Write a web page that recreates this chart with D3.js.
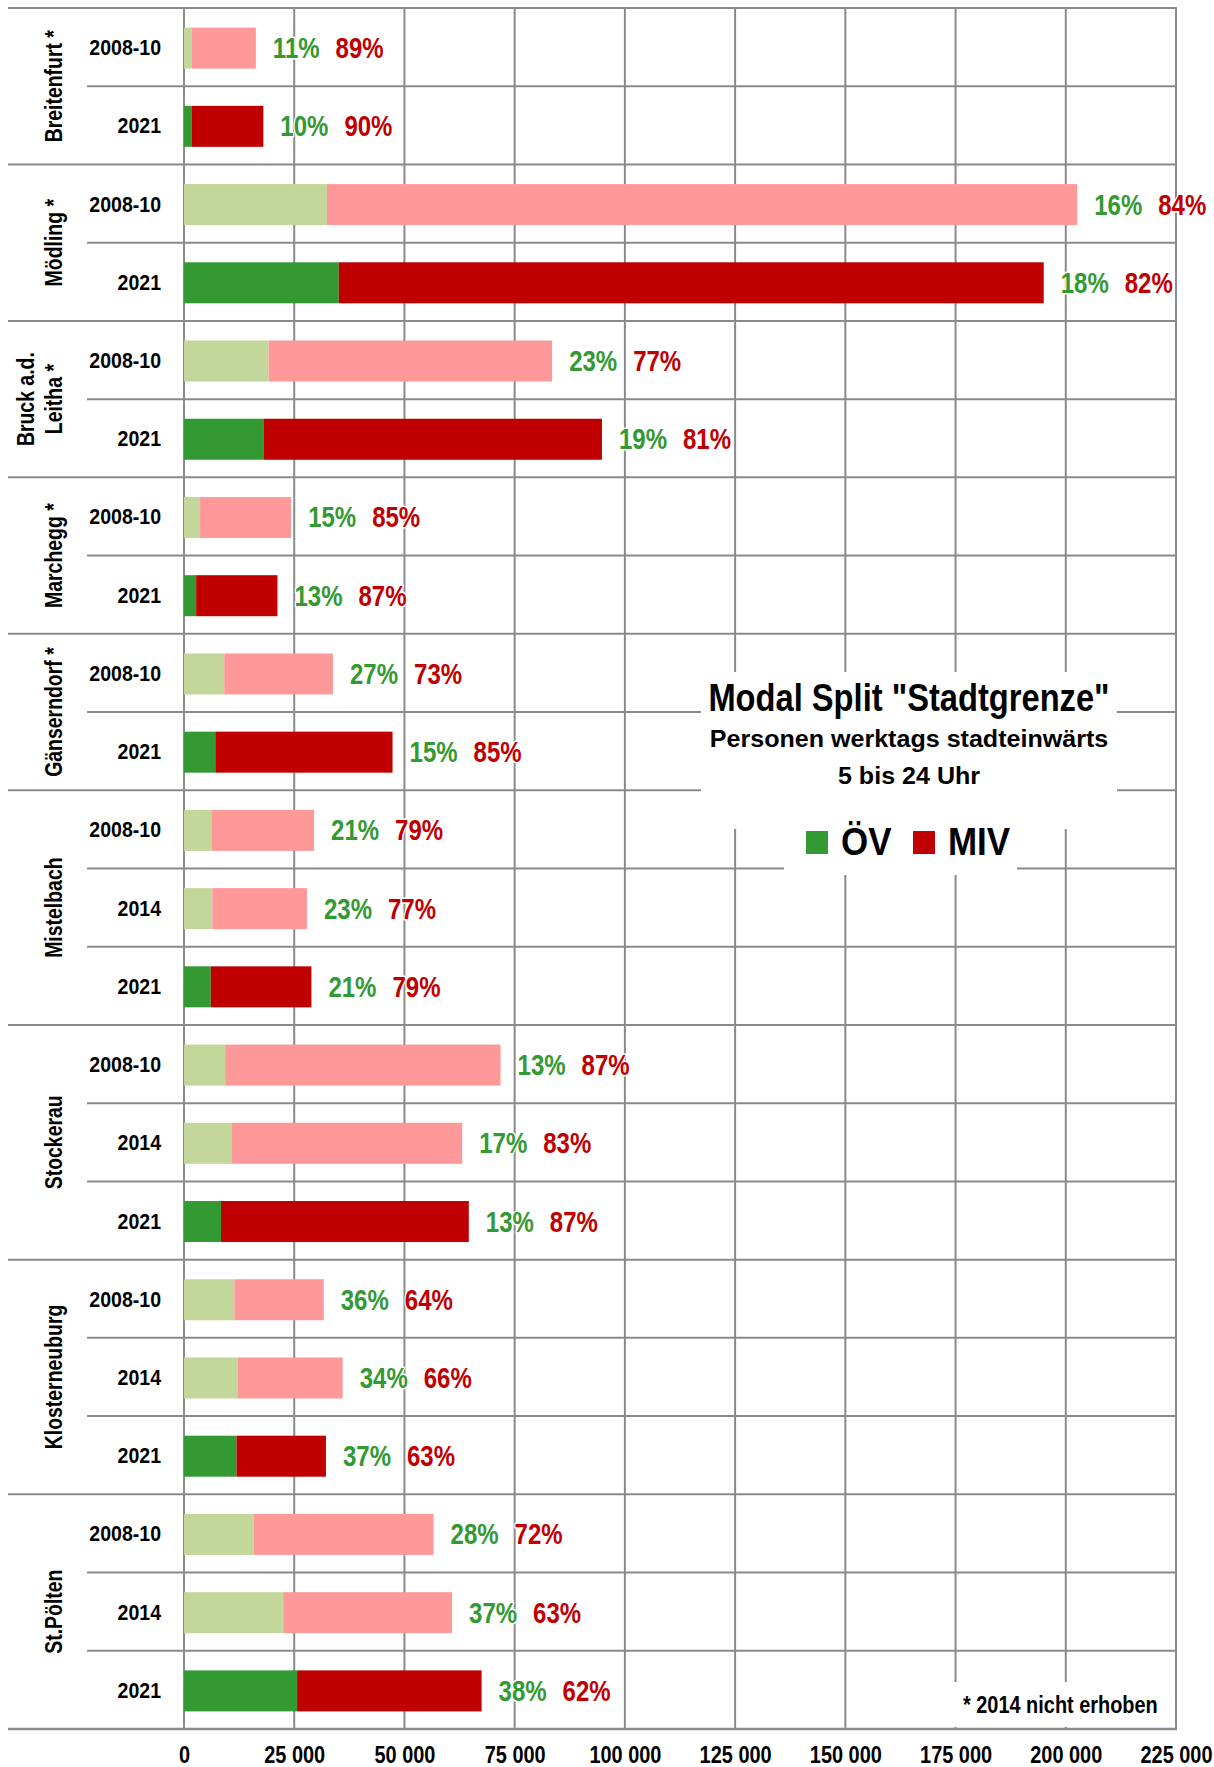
<!DOCTYPE html>
<html>
<head>
<meta charset="utf-8">
<script src="https://cdn.jsdelivr.net/npm/d3@7"></script>
<style>
  body { margin: 0; background: #fff; }
  svg { display: block; }
</style>
</head>
<body>
<svg id="chart" width="1214" height="1767"></svg>
<script>
// ---- data -------------------------------------------------------------
const groupLines = [
  ["Breitenfurt *"], ["Mödling *"], ["Bruck a.d.", "Leitha *"], ["Marchegg *"],
  ["Gänserndorf *"], ["Mistelbach"], ["Stockerau"], ["Klosterneuburg"], ["St.Pölten"]
];
const groupSizes = [2, 2, 2, 2, 2, 3, 3, 3, 3];
const periods = [
  "2008-10", "2021",
  "2008-10", "2021",
  "2008-10", "2021",
  "2008-10", "2021",
  "2008-10", "2021",
  "2008-10", "2014", "2021",
  "2008-10", "2014", "2021",
  "2008-10", "2014", "2021",
  "2008-10", "2014", "2021"
];
// persons per weekday, inbound, 5-24 h (ÖV + MIV)
const totals = [
  16300, 18000,
  202600, 195000,
  83500, 94800,
  24300, 21200,
  33800, 47300,
  29500, 27900, 28900,
  71800, 63100, 64600,
  31700, 36000, 32200,
  56600, 60800, 67500
];
// share of public transport (ÖV) in percent; MIV = 100 - ÖV
const oevShare = [
  11, 10,
  16, 18,
  23, 19,
  15, 13,
  27, 15,
  21, 23, 21,
  13, 17, 13,
  36, 34, 37,
  28, 37, 38
];
const tickValues = [0, 25000, 50000, 75000, 100000, 125000, 150000, 175000, 200000, 225000];
const tickLabels = ["0", "25 000", "50 000", "75 000", "100 000", "125 000", "150 000", "175 000", "200 000", "225 000"];
const seriesNames = ["ÖV", "MIV"];
const titleText = "Modal Split \"Stadtgrenze\"";
const subtitleLines = ["Personen werktags stadteinwärts", "5 bis 24 Uhr"];
const footnote = "* 2014 nicht erhoben";

// ---- styling ------------------------------------------------------------
const FONT = '"Liberation Sans", Arial, Helvetica, sans-serif';
const GRID = "#8a8a8a";
const colOevNow = "#339933", colMivNow = "#c00000";
const colOevOld = "#c4d79b", colMivOld = "#ff9999";

const plotLeft = 184, plotRight = 1176, plotTop = 8, plotBottom = 1729;
const svg = d3.select("#chart");

const x = d3.scaleLinear().domain([0, 225000]).range([plotLeft, plotRight]);
const y = d3.scaleBand().domain(d3.range(periods.length)).range([plotTop, plotBottom]);
const rowH = y.bandwidth();
const barH = 41;

const groupStart = [];
{ let acc = 0; groupSizes.forEach(n => { groupStart.push(acc); acc += n; }); }

// place a text element with a horizontal condensing factor
function put(sel, tx, ty, sx, extra) {
  return sel.attr("transform", `translate(${tx},${ty})${extra || ""} scale(${sx},1)`);
}

// ---- grid -------------------------------------------------------------
const grid = svg.append("g");
grid.selectAll("line.v").data(tickValues).join("line")
  .attr("x1", d => x(d)).attr("x2", d => x(d))
  .attr("y1", plotTop).attr("y2", plotBottom)
  .attr("stroke", GRID).attr("stroke-width", 2);

const boundaries = d3.range(periods.length + 1);
const nRows = periods.length;
grid.selectAll("line.h").data(boundaries).join("line")
  .attr("x1", i => (i === nRows || groupStart.includes(i)) ? 8 : 87)
  .attr("x2", plotRight + 1)
  .attr("y1", i => i === nRows ? plotBottom : y(i))
  .attr("y2", i => i === nRows ? plotBottom : y(i))
  .attr("stroke", GRID).attr("stroke-width", i => i === nRows ? 2.5 : 2);

// white panels behind the title, legend and footnote
svg.append("rect").attr("x", 701).attr("y", 672).attr("width", 416).attr("height", 157).attr("fill", "#fff");
svg.append("rect").attr("x", 784).attr("y", 826).attr("width", 233).attr("height", 49).attr("fill", "#fff");
svg.append("rect").attr("x", 948).attr("y", 1682).attr("width", 220).attr("height", 45).attr("fill", "#fff");

// ---- bars ---------------------------------------------------------------
const rows = periods.map((p, i) => ({
  i, period: p, total: totals[i], oev: totals[i] * oevShare[i] / 100, share: oevShare[i]
}));
const bars = svg.append("g");
bars.selectAll("rect.oev").data(rows).join("rect")
  .attr("class", "oev")
  .attr("x", x(0))
  .attr("y", d => y(d.i) + (rowH - barH) / 2 + 1)
  .attr("width", d => x(d.oev) - x(0))
  .attr("height", barH)
  .attr("fill", d => d.period === "2021" ? colOevNow : colOevOld);
bars.selectAll("rect.miv").data(rows).join("rect")
  .attr("class", "miv")
  .attr("x", d => x(d.oev))
  .attr("y", d => y(d.i) + (rowH - barH) / 2 + 1)
  .attr("width", d => x(d.total) - x(d.oev))
  .attr("height", barH)
  .attr("fill", d => d.period === "2021" ? colMivNow : colMivOld);

// ---- share labels ----------------------------------------------------------
const pctSX = 0.8;
const pct = svg.append("g")
  .attr("font-family", FONT).attr("font-weight", "bold").attr("font-size", 30)
  .attr("stroke", "#fff").attr("stroke-width", 3).attr("paint-order", "stroke")
  .attr("stroke-linejoin", "round");
pct.selectAll("text").data(rows).join("text")
  .each(function (d) {
    const t = d3.select(this);
    put(t, x(d.total) + 17, y(d.i) + rowH / 2 + 11, pctSX);
    t.append("tspan").attr("fill", colOevNow).text(d.share + "%");
    t.append("tspan").attr("fill", colMivNow).attr("dx", 16 / pctSX).text((100 - d.share) + "%");
  });

// ---- period labels -------------------------------------------------------
svg.append("g").attr("font-family", FONT).attr("font-weight", "bold").attr("font-size", 22)
  .attr("text-anchor", "end").attr("fill", "#000")
  .selectAll("text").data(rows).join("text")
  .each(function (d) { put(d3.select(this), 161, y(d.i) + rowH / 2 + 8, 0.888); })
  .text(d => d.period);

// ---- group labels (rotated) ---------------------------------------------
const gl = svg.append("g").attr("font-family", FONT).attr("font-weight", "bold").attr("font-size", 24)
  .attr("text-anchor", "middle").attr("fill", "#000");
groupLines.forEach((lines, g) => {
  const s = groupStart[g], e = s + groupSizes[g] - 1;
  const cy = (y(s) + y(e) + rowH) / 2;
  lines.forEach((ln, k) => {
    const bx = lines.length === 1 ? 62 : 34 + k * 28;
    put(gl.append("text").text(ln), bx, cy, 0.81, " rotate(-90)");
  });
});

// ---- x axis labels ----------------------------------------------------------
const axis = svg.append("g").attr("transform", `translate(0,${1745})`)
  .call(d3.axisBottom(x).tickValues(tickValues).tickFormat((d, i) => tickLabels[i]).tickSize(0).tickPadding(0));
axis.select(".domain").remove();
axis.selectAll("text")
  .attr("y", 18).attr("dy", null)
  .attr("font-family", FONT).attr("font-weight", "bold").attr("font-size", 24).attr("fill", "#000")
  .attr("transform", "scale(0.83,1)");

// ---- title and legend ----------------------------------------------------
put(svg.append("text").text(titleText), 909, 711, 0.86)
  .attr("font-family", FONT).attr("font-weight", "bold").attr("font-size", 38)
  .attr("text-anchor", "middle").attr("fill", "#000");
subtitleLines.forEach((s, k) => {
  put(svg.append("text").text(s), 909, 747 + k * 37, 1.045)
    .attr("font-family", FONT).attr("font-weight", "bold").attr("font-size", 24)
    .attr("text-anchor", "middle").attr("fill", "#000");
});

const legendColors = [colOevNow, colMivNow];
const legendX = [806, 913];
seriesNames.forEach((name, k) => {
  svg.append("rect").attr("x", legendX[k]).attr("y", 831).attr("width", 22).attr("height", 23)
    .attr("fill", legendColors[k]);
  put(svg.append("text").text(name), legendX[k] + 35, 855, 0.92)
    .attr("font-family", FONT).attr("font-weight", "bold").attr("font-size", 38).attr("fill", "#000");
});

// ---- footnote ------------------------------------------------------------
put(svg.append("text").text(footnote), 963, 1713, 0.83)
  .attr("font-family", FONT).attr("font-weight", "bold").attr("font-size", 24).attr("fill", "#000");
</script>
</body>
</html>
